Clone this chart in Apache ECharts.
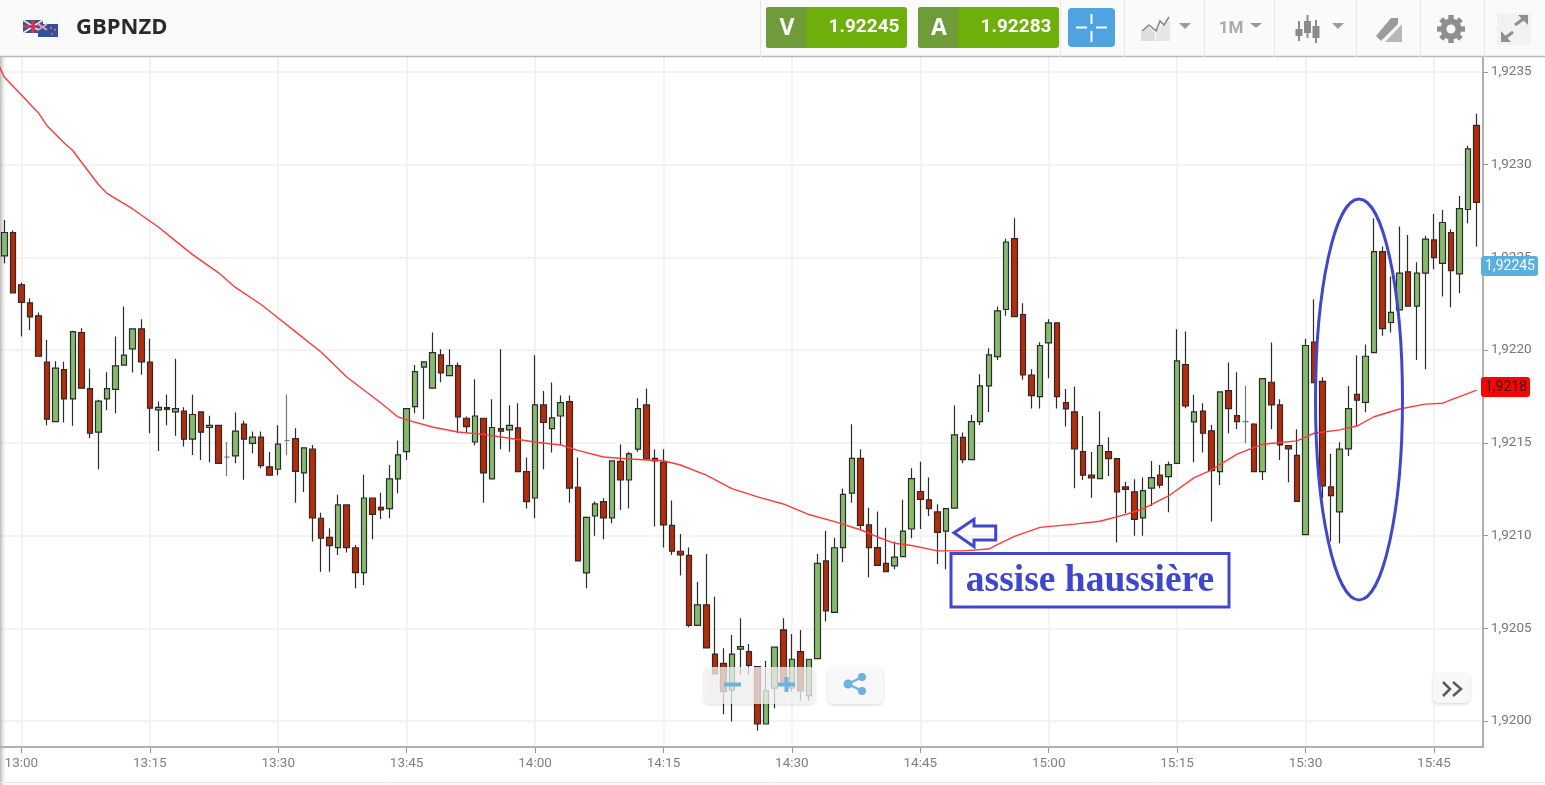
<!DOCTYPE html>
<html><head><meta charset="utf-8"><title>GBPNZD</title>
<style>html,body{margin:0;padding:0;background:#fff}#main{width:1545px;height:785px}</style>
<script src="https://cdn.jsdelivr.net/npm/echarts@6/dist/echarts.min.js"></script></head>
<body><div id="main"></div>
<script>
const instrument = 'GBPNZD';
const bidPrice = '1.92245', askPrice = '1.92283';
const bidBadge = '1,92245', maBadge = '1,9218';
const annotation = 'assise haussière';
const startMinute = 12 * 60 + 58;
const candleCount = 173;

const opens = [
1.922507,1.922633,1.922351,1.922254,1.922184,1.921934,1.921614,1.921894,1.921736,1.922094,
1.921792,1.921557,1.921736,1.921788,1.921918,1.922006,1.922114,1.921934,1.921677,1.921689,
1.921666,1.921670,1.921519,1.921666,1.921582,1.921594,1.921422,1.921429,1.921600,1.921497,
1.921530,1.921370,1.921357,1.921512,1.921522,1.921337,1.921465,1.921093,1.920990,1.920935,
1.921165,1.920933,1.920800,1.921202,1.921152,1.921145,1.921305,1.921452,1.921695,1.921907,
1.921794,1.921973,1.921862,1.921916,1.921632,1.921504,1.921632,1.921305,1.921576,1.921569,
1.921580,1.921344,1.921202,1.921704,1.921576,1.921644,1.921722,1.921260,1.920798,1.921105,
1.921183,1.921095,1.921400,1.921299,1.921465,1.921704,1.921416,1.921395,1.921055,1.920915,
1.920893,1.920516,1.920626,1.920361,1.920311,1.920167,1.920387,1.920374,1.920293,1.919984,
1.920177,1.920491,1.920178,1.920374,1.920137,1.920336,1.920863,1.920586,1.920935,1.921228,
1.921416,1.921057,1.920935,1.920850,1.920836,1.920886,1.921035,1.921237,1.921192,1.921127,
1.921023,1.921147,1.921529,1.921409,1.921614,1.921806,1.921964,1.922218,1.922600,1.922191,
1.921865,1.921749,1.922038,1.922146,1.921716,1.921666,1.921452,1.921325,1.921307,1.921452,
1.921414,1.921262,1.921235,1.921095,1.921255,1.921325,1.921317,1.921389,1.921921,1.921612,
1.921671,1.921564,1.921344,1.921781,1.921646,1.921614,1.921601,1.921344,1.921826,1.921704,
1.921484,1.921432,1.921005,1.922043,1.921831,1.921262,1.921127,1.921467,1.921761,1.921718,
1.921986,1.922530,1.922148,1.922216,1.922421,1.922236,1.922414,1.922593,1.922467,1.922633,
1.922410,1.922757,1.923211];
const closes = [
1.922633,1.922308,1.922256,1.922178,1.921966,1.921627,1.921902,1.921736,1.922099,1.921794,
1.921551,1.921724,1.921792,1.921914,1.921972,1.922114,1.921936,1.921686,1.921691,1.921680,
1.921684,1.921519,1.921652,1.921557,1.921594,1.921389,1.921422,1.921562,1.921519,1.921530,
1.921377,1.921325,1.921492,1.921512,1.921346,1.921472,1.921095,1.920985,1.920945,1.921165,
1.920935,1.920800,1.921202,1.921114,1.921138,1.921305,1.921434,1.921684,1.921883,1.921936,
1.921986,1.921876,1.921916,1.921639,1.921587,1.921644,1.921337,1.921582,1.921562,1.921594,
1.921344,1.921183,1.921704,1.921609,1.921634,1.921716,1.921255,1.920863,1.921098,1.921170,
1.921095,1.921402,1.921299,1.921440,1.921684,1.921411,1.921402,1.921057,1.920915,1.920895,
1.920516,1.920626,1.920394,1.920254,1.920158,1.920361,1.920401,1.920300,1.919984,1.920164,
1.920398,1.920211,1.920333,1.920162,1.920333,1.920850,1.920593,1.920934,1.921222,1.921416,
1.921055,1.920935,1.920839,1.920805,1.920883,1.921024,1.921307,1.921195,1.921145,1.921017,
1.921145,1.921542,1.921409,1.921614,1.921806,1.921973,1.922211,1.922582,1.922180,1.921865,
1.921754,1.922024,1.922146,1.921749,1.921682,1.921467,1.921325,1.921310,1.921485,1.921414,
1.921235,1.921249,1.921087,1.921242,1.921312,1.921272,1.921382,1.921941,1.921698,1.921666,
1.921551,1.921350,1.921774,1.921684,1.921614,1.921614,1.921344,1.921846,1.921704,1.921488,
1.921467,1.921184,1.922024,1.921824,1.921267,1.921215,1.921465,1.921684,1.921729,1.921966,
1.922530,1.922115,1.922203,1.922414,1.922236,1.922414,1.922597,1.922498,1.922687,1.922428,
1.922762,1.923084,1.922795];
const lows = [
1.922468,1.922308,1.922072,1.922108,1.921966,1.921594,1.921610,1.921609,1.921591,1.921794,
1.921524,1.921357,1.921677,1.921659,1.921918,1.921878,1.921866,1.921551,1.921456,1.921594,
1.921537,1.921479,1.921434,1.921407,1.921395,1.921389,1.921321,1.921389,1.921300,1.921443,
1.921362,1.921325,1.921325,1.921433,1.921177,1.921235,1.920967,1.920805,1.920805,1.920895,
1.920908,1.920716,1.920733,1.920980,1.921089,1.921093,1.921228,1.921407,1.921659,1.921627,
1.921794,1.921826,1.921862,1.921551,1.921551,1.921486,1.921177,1.921305,1.921465,1.921452,
1.921344,1.921145,1.921093,1.921357,1.921447,1.921486,1.921177,1.920863,1.920715,1.920998,
1.920980,1.921066,1.921138,1.921145,1.921452,1.921407,1.921048,1.920935,1.920895,1.920784,
1.920505,1.920516,1.920394,1.920254,1.920036,1.919997,1.920248,1.920248,1.919948,1.919984,
1.920069,1.920211,1.920158,1.920108,1.920108,1.920336,1.920536,1.920586,1.920857,1.921177,
1.921030,1.920775,1.920839,1.920805,1.920818,1.920883,1.920985,1.921035,1.921105,1.920847,
1.920818,1.921147,1.921389,1.921407,1.921596,1.921666,1.921946,1.922184,1.922180,1.921839,
1.921684,1.921684,1.921848,1.921684,1.921587,1.921255,1.921299,1.921204,1.921307,1.921321,
1.920962,1.921120,1.920998,1.920998,1.921159,1.921255,1.921125,1.921389,1.921686,1.921395,
1.921447,1.921075,1.921272,1.921551,1.921574,1.921497,1.921344,1.921299,1.921574,1.921407,
1.921287,1.921184,1.921005,1.921824,1.921201,1.920967,1.920958,1.921429,1.921592,1.921664,
1.921986,1.922076,1.922094,1.922216,1.922236,1.921946,1.921896,1.922435,1.922288,1.922230,
1.922306,1.922683,1.922557];
const highs = [
1.922701,1.922644,1.922363,1.922279,1.922202,1.922054,1.921939,1.921936,1.922103,1.922117,
1.921900,1.921731,1.921880,1.922072,1.922234,1.922115,1.922166,1.922061,1.921722,1.921760,
1.921952,1.921691,1.921758,1.921666,1.921645,1.921594,1.921504,1.921663,1.921619,1.921560,
1.921560,1.921450,1.921594,1.921760,1.921578,1.921472,1.921488,1.921123,1.921039,1.921219,
1.921165,1.920949,1.921328,1.921202,1.921231,1.921380,1.921510,1.921686,1.921919,1.921937,
1.922094,1.922004,1.922004,1.921932,1.921641,1.921842,1.921632,1.921734,1.922004,1.921702,
1.921713,1.921420,1.921972,1.921779,1.921824,1.921754,1.921754,1.921420,1.921102,1.921183,
1.921201,1.921402,1.921490,1.921452,1.921740,1.921792,1.921465,1.921465,1.921188,1.921008,
1.920935,1.920751,1.920900,1.920670,1.920392,1.920464,1.920554,1.920415,1.920293,1.920324,
1.920398,1.920554,1.920469,1.920491,1.920333,1.920900,1.921026,1.920988,1.921253,1.921600,
1.921465,1.921150,1.921129,1.921042,1.920967,1.921192,1.921362,1.921398,1.921312,1.921168,
1.921147,1.921700,1.921555,1.921650,1.921869,1.922009,1.922234,1.922599,1.922710,1.922252,
1.921896,1.922042,1.922166,1.922146,1.921790,1.921803,1.921644,1.921450,1.921670,1.921529,
1.921416,1.921290,1.921303,1.921312,1.921402,1.921380,1.921398,1.922112,1.922099,1.921758,
1.921713,1.921596,1.921776,1.921932,1.921880,1.921806,1.921605,1.921848,1.922040,1.921734,
1.921488,1.921573,1.922061,1.922273,1.921853,1.921440,1.921502,1.921806,1.921972,1.922029,
1.922710,1.922557,1.922396,1.922665,1.922620,1.922473,1.922615,1.922733,1.922755,1.922651,
1.922830,1.923100,1.923273];

const maIndex = [-1,0,2,4,5,7,8,9,11,12,15,18,20,22,25,27,30,32,34,37,40,44,46,47,50,53,56,59,62,65,67,70,73,77,79,82,85,88,91,94,97,100,102,104,106,109,112,115,116,118,121,125,128,131,133,136,139,141,144,147,151,153,156,158,160,163,166,168,170,172];
const maValues = [
1.923571,1.923471,1.923374,1.923277,1.923209,1.923116,1.923075,1.923013,1.922892,1.922844,1.922760,
1.922663,1.922588,1.922514,1.922417,1.922337,1.922245,1.922172,1.922099,1.921989,1.921854,
1.921714,1.921639,1.921623,1.921585,1.921558,1.921545,1.921524,1.921504,1.921488,1.921459,
1.921423,1.921412,1.921403,1.921380,1.921325,1.921253,1.921208,1.921170,1.921113,1.921075,
1.921031,1.920992,1.920958,1.920946,1.920917,1.920917,1.920927,1.920951,1.920995,1.921044,
1.921061,1.921077,1.921114,1.921143,1.921213,1.921312,1.921352,1.921439,1.921492,1.921510,
1.921551,1.921569,1.921590,1.921640,1.921682,1.921708,1.921713,1.921748,1.921784];

const pad = n => String(n).padStart(2, '0');
const categories = Array.from({length: candleCount}, (_, i) => {
  const m = startMinute + i; return pad(Math.floor(m / 60)) + ':' + pad(m % 60);
});
const candles = categories.map((_, i) => [opens[i], closes[i], lows[i], highs[i]]);
const maLine = maIndex.map((idx, i) => [idx, maValues[i]]);
const isQuarter = (i, v) => v.endsWith(':00') || v.endsWith(':15') || v.endsWith(':30') || v.endsWith(':45');

const Z = 50, BLUE = '#3f48cc', GREY = '#9b9b9b';
const rect = (x, y, w, h, fill, extra) => Object.assign({type: 'rect', z: Z, silent: true, shape: {x, y, width: w, height: h, r: (extra && extra.r) || 0}, style: {fill}}, extra && {style: Object.assign({fill}, extra.style)});
const line = (x1, y1, x2, y2, stroke, lineWidth, z) => ({type: 'line', z: z || Z, silent: true, shape: {x1, y1, x2, y2}, style: {stroke, lineWidth}});
const txt = (x, y, text, font, fill, align) => ({type: 'text', z: Z + 1, silent: true, x, y, style: {text, font, fill, align: align || 'center', verticalAlign: 'middle'}});
const poly = (points, fill) => ({type: 'polygon', z: Z, silent: true, shape: {points}, style: {fill}});
const pline = (points, stroke, lineWidth) => ({type: 'polyline', z: Z, silent: true, shape: {points}, style: {stroke, lineWidth, fill: 'none'}});

const chrome = [
  {type: 'rect', z: 1, silent: true, shape: {x: 0, y: 0, width: 6, height: 785},
   style: {fill: new echarts.graphic.LinearGradient(0, 0, 1, 0, [{offset: 0, color: 'rgba(170,170,170,.8)'}, {offset: 1, color: 'rgba(220,220,220,0)'}])}},
  rect(0, 0, 1545, 56, '#fafafa'),
  line(0, 56.5, 1545, 56.5, '#b9b9b9', 1.5),
  line(0, 747, 1484, 747, '#b0b0b0', 2),
  line(0, 782.5, 1545, 782.5, '#e8e8e8', 1)
];
[760, 1060, 1124, 1204, 1274, 1356, 1420, 1484].forEach(x => chrome.push(line(x + .5, 0, x + .5, 57, '#e6e6e6', 1)));

const flags = [
  rect(23, 20, 20, 13, '#3e4f8f'),
  line(23, 20, 43, 33, '#e8e0e0', 2), line(43, 20, 23, 33, '#e8e0e0', 2),
  line(33, 20, 33, 33, '#d8334a', 3), line(23, 26.5, 43, 26.5, '#d8334a', 3),
  rect(38, 24, 20, 13, '#34509a'),
  line(38, 24, 47, 30, '#d9aab5', 2), line(47, 24, 38, 30, '#d9aab5', 2),
  rect(50, 27, 2, 2, '#e05a60'), rect(54, 29, 2, 2, '#e05a60'), rect(51, 33, 2, 2, '#e05a60'),
  txt(76, 28, instrument, 'bold 22px "Open Sans"', '#2b2b2b', 'left')
];

const quotes = [
  rect(766, 7, 141, 41, '#6eaf0c', {r: 3}), rect(766, 7, 40, 41, '#6f9b38', {r: [3, 0, 0, 3]}),
  txt(787, 28, 'V', 'bold 23px "Open Sans"', '#fff'),
  txt(864, 27, bidPrice, 'bold 19px Roboto', '#fff'),
  rect(918, 7, 141, 41, '#6eaf0c', {r: 3}), rect(918, 7, 40, 41, '#6f9b38', {r: [3, 0, 0, 3]}),
  txt(939, 28, 'A', 'bold 23px "Open Sans"', '#fff'),
  txt(1016, 27, askPrice, 'bold 19px Roboto', '#fff'),
  rect(1068, 8, 47, 39, '#4ea3e0', {r: 4}),
  line(1076, 27.5, 1087, 27.5, '#fff', 2), line(1096, 27.5, 1107, 27.5, '#fff', 2),
  line(1091.5, 14, 1091.5, 24, '#fff', 2), line(1091.5, 31, 1091.5, 42, '#fff', 2)
];

const tools = [
  poly([[1141, 41], [1141, 32], [1149, 27], [1155, 33], [1155, 41]], '#dedede'),
  poly([[1156, 41], [1156, 30], [1170, 20], [1170, 41]], '#e6e6e6'),
  pline([[1142, 31], [1149, 25], [1156, 31], [1160, 21], [1164, 25], [1169, 17]], '#888', 1.6),
  poly([[1179, 23], [1191, 23], [1185, 29]], GREY),
  txt(1231, 29, '1M', 'bold 17px Roboto', '#aaaaaa'),
  poly([[1250, 23], [1262, 23], [1256, 28]], GREY)
];
[[1299, 29, 36, 21, 41], [1307.5, 21, 33, 15, 38], [1316, 26, 38, 20, 43]].forEach(c => {
  tools.push(line(c[0], c[3], c[0], c[4], '#8a8a8a', 2), rect(c[0] - 3.5, c[1], 7, c[2] - c[1], '#8a8a8a'));
});
tools.push(
  poly([[1332, 23], [1344, 23], [1338, 29]], GREY),
  poly([[1376, 36], [1391, 18], [1398, 18], [1398, 24], [1381, 41]], GREY),
  poly([[1385, 42], [1402, 24], [1402, 42]], '#b8b8b8'),
  {type: 'ring', z: Z, silent: true, shape: {cx: 1451, cy: 29, r: 10.5, r0: 4.5}, style: {fill: '#8f8f8f'}},
  rect(1497, 13, 34, 32, '#f2f2f2'),
  line(1515, 25, 1526, 17, '#8f8f8f', 3), poly([[1518, 15], [1528, 15], [1528, 25]], '#8f8f8f'),
  line(1502, 40, 1513, 32, '#8f8f8f', 3), poly([[1501, 31], [1501, 42], [1511, 42]], '#8f8f8f')
);
for (let k = 0; k < 8; k++) {
  tools.push({type: 'rect', z: Z, silent: true, x: 1451, y: 29, rotation: k * Math.PI / 4,
    shape: {x: -2.7, y: -14, width: 5.4, height: 6}, style: {fill: '#8f8f8f'}});
}

const floatBtn = {r: 5, style: {shadowBlur: 3, shadowColor: 'rgba(0,0,0,.18)', shadowOffsetY: 1}};
const controls = [
  rect(704, 667, 111, 37, 'rgba(250,250,250,.74)', floatBtn),
  line(724, 684.5, 741, 684.5, '#6db3e0', 4),
  line(778, 684.5, 795, 684.5, '#6db3e0', 4), line(786.5, 677, 786.5, 692, '#6db3e0', 4),
  rect(828, 667, 55, 37, 'rgba(252,252,252,.9)', floatBtn),
  line(848, 684, 862, 677, '#6db3e0', 2.5), line(848, 684, 862, 691, '#6db3e0', 2.5),
  {type: 'circle', z: Z, silent: true, shape: {cx: 848, cy: 684, r: 4.5}, style: {fill: '#6db3e0'}},
  {type: 'circle', z: Z, silent: true, shape: {cx: 862, cy: 677, r: 4}, style: {fill: '#6db3e0'}},
  {type: 'circle', z: Z, silent: true, shape: {cx: 862, cy: 691, r: 4}, style: {fill: '#6db3e0'}},
  rect(1433, 674, 37, 29, '#f8f8f8', floatBtn),
  pline([[1443, 682], [1450, 689], [1443, 696]], '#5a5a5a', 2.5),
  pline([[1453, 682], [1461, 689], [1453, 696]], '#5a5a5a', 2.5)
];

const badges = [
  rect(1481, 256, 57, 20, '#5ab0dd', {r: 3}),
  txt(1510, 266.5, bidBadge, '14px Roboto', '#fff'),
  rect(1481, 377, 49, 20, '#ff0000', {r: 3}),
  txt(1506, 387.5, maBadge, '14px Roboto', '#222')
];

const notes = [
  {type: 'ellipse', z: Z, silent: true, shape: {cx: 1359, cy: 399.5, rx: 43.5, ry: 200.5}, style: {fill: 'none', stroke: BLUE, lineWidth: 3}},
  {type: 'polygon', z: Z, silent: true, shape: {points: [[954, 532.7], [974, 519.3], [974, 526], [995.7, 526], [995.7, 540], [974, 540], [974, 546.7]]}, style: {fill: 'none', stroke: BLUE, lineWidth: 3}},
  {type: 'rect', z: Z, silent: true, shape: {x: 951, y: 553.5, width: 278, height: 53.5}, style: {fill: '#fff', stroke: BLUE, lineWidth: 3}},
  txt(1090, 581, annotation, 'bold 37.5px "Liberation Serif"', BLUE)
];

const chart = echarts.init(document.getElementById('main'), null, {renderer: 'canvas'});
chart.setOption({
  animation: false,
  backgroundColor: '#fff',
  grid: [
    {left: 0, top: 57, width: 1481, height: 690, outerBoundsMode: 'none'},
    {left: 0, top: -21, width: 1481, height: 834.8, outerBoundsMode: 'none'}
  ],
  xAxis: [
    {type: 'category', gridIndex: 0, data: categories, boundaryGap: true,
     axisLine: {show: false},
     axisTick: {show: true, interval: isQuarter, alignWithLabel: true, length: 6, lineStyle: {color: '#999'}},
     axisLabel: {interval: isQuarter, color: '#808080', fontFamily: 'Roboto', fontSize: 13.5, margin: 10, hideOverlap: false},
     splitLine: {show: true, interval: isQuarter, alignWithLabel: true, lineStyle: {color: '#f3f3f3', width: 2}}},
    {type: 'category', gridIndex: 1, data: categories, show: false}
  ],
  yAxis: [
    {type: 'value', gridIndex: 0, position: 'right', offset: 2, min: 1.919860, max: 1.923579, scale: true,
     axisLine: {show: true, onZero: false, lineStyle: {color: '#b0b0b0', width: 2}},
     axisTick: {show: false}, axisLabel: {show: false}, splitLine: {show: false}},
    {type: 'value', gridIndex: 1, position: 'right', offset: 2, min: 1.9195, max: 1.9240, interval: 0.0005, scale: true,
     axisLine: {show: false},
     axisTick: {show: true, length: 5, lineStyle: {color: '#999'}},
     axisLabel: {color: '#777', fontFamily: 'Roboto', fontSize: 13.5, margin: 8, formatter: v => v.toFixed(4).replace('.', ',')},
     splitLine: {show: true, lineStyle: {color: '#f3f3f3', width: 2}}}
  ],
  series: [
    {type: 'candlestick', xAxisIndex: 0, yAxisIndex: 0, data: candles, barWidth: 6,
     itemStyle: {color: '#86bb6e', color0: '#b62b08', borderColor: '#2b2b2b', borderColor0: '#2b2b2b', borderColorDoji: '#777', borderWidth: 1.2}},
    {type: 'line', xAxisIndex: 0, yAxisIndex: 0, data: maLine, showSymbol: false, smooth: false, z: 3,
     lineStyle: {color: '#ff3a3a', width: 1.4}}
  ],
  graphic: {elements: [].concat(chrome, flags, quotes, tools, controls, badges, notes)}
});
</script></body></html>
